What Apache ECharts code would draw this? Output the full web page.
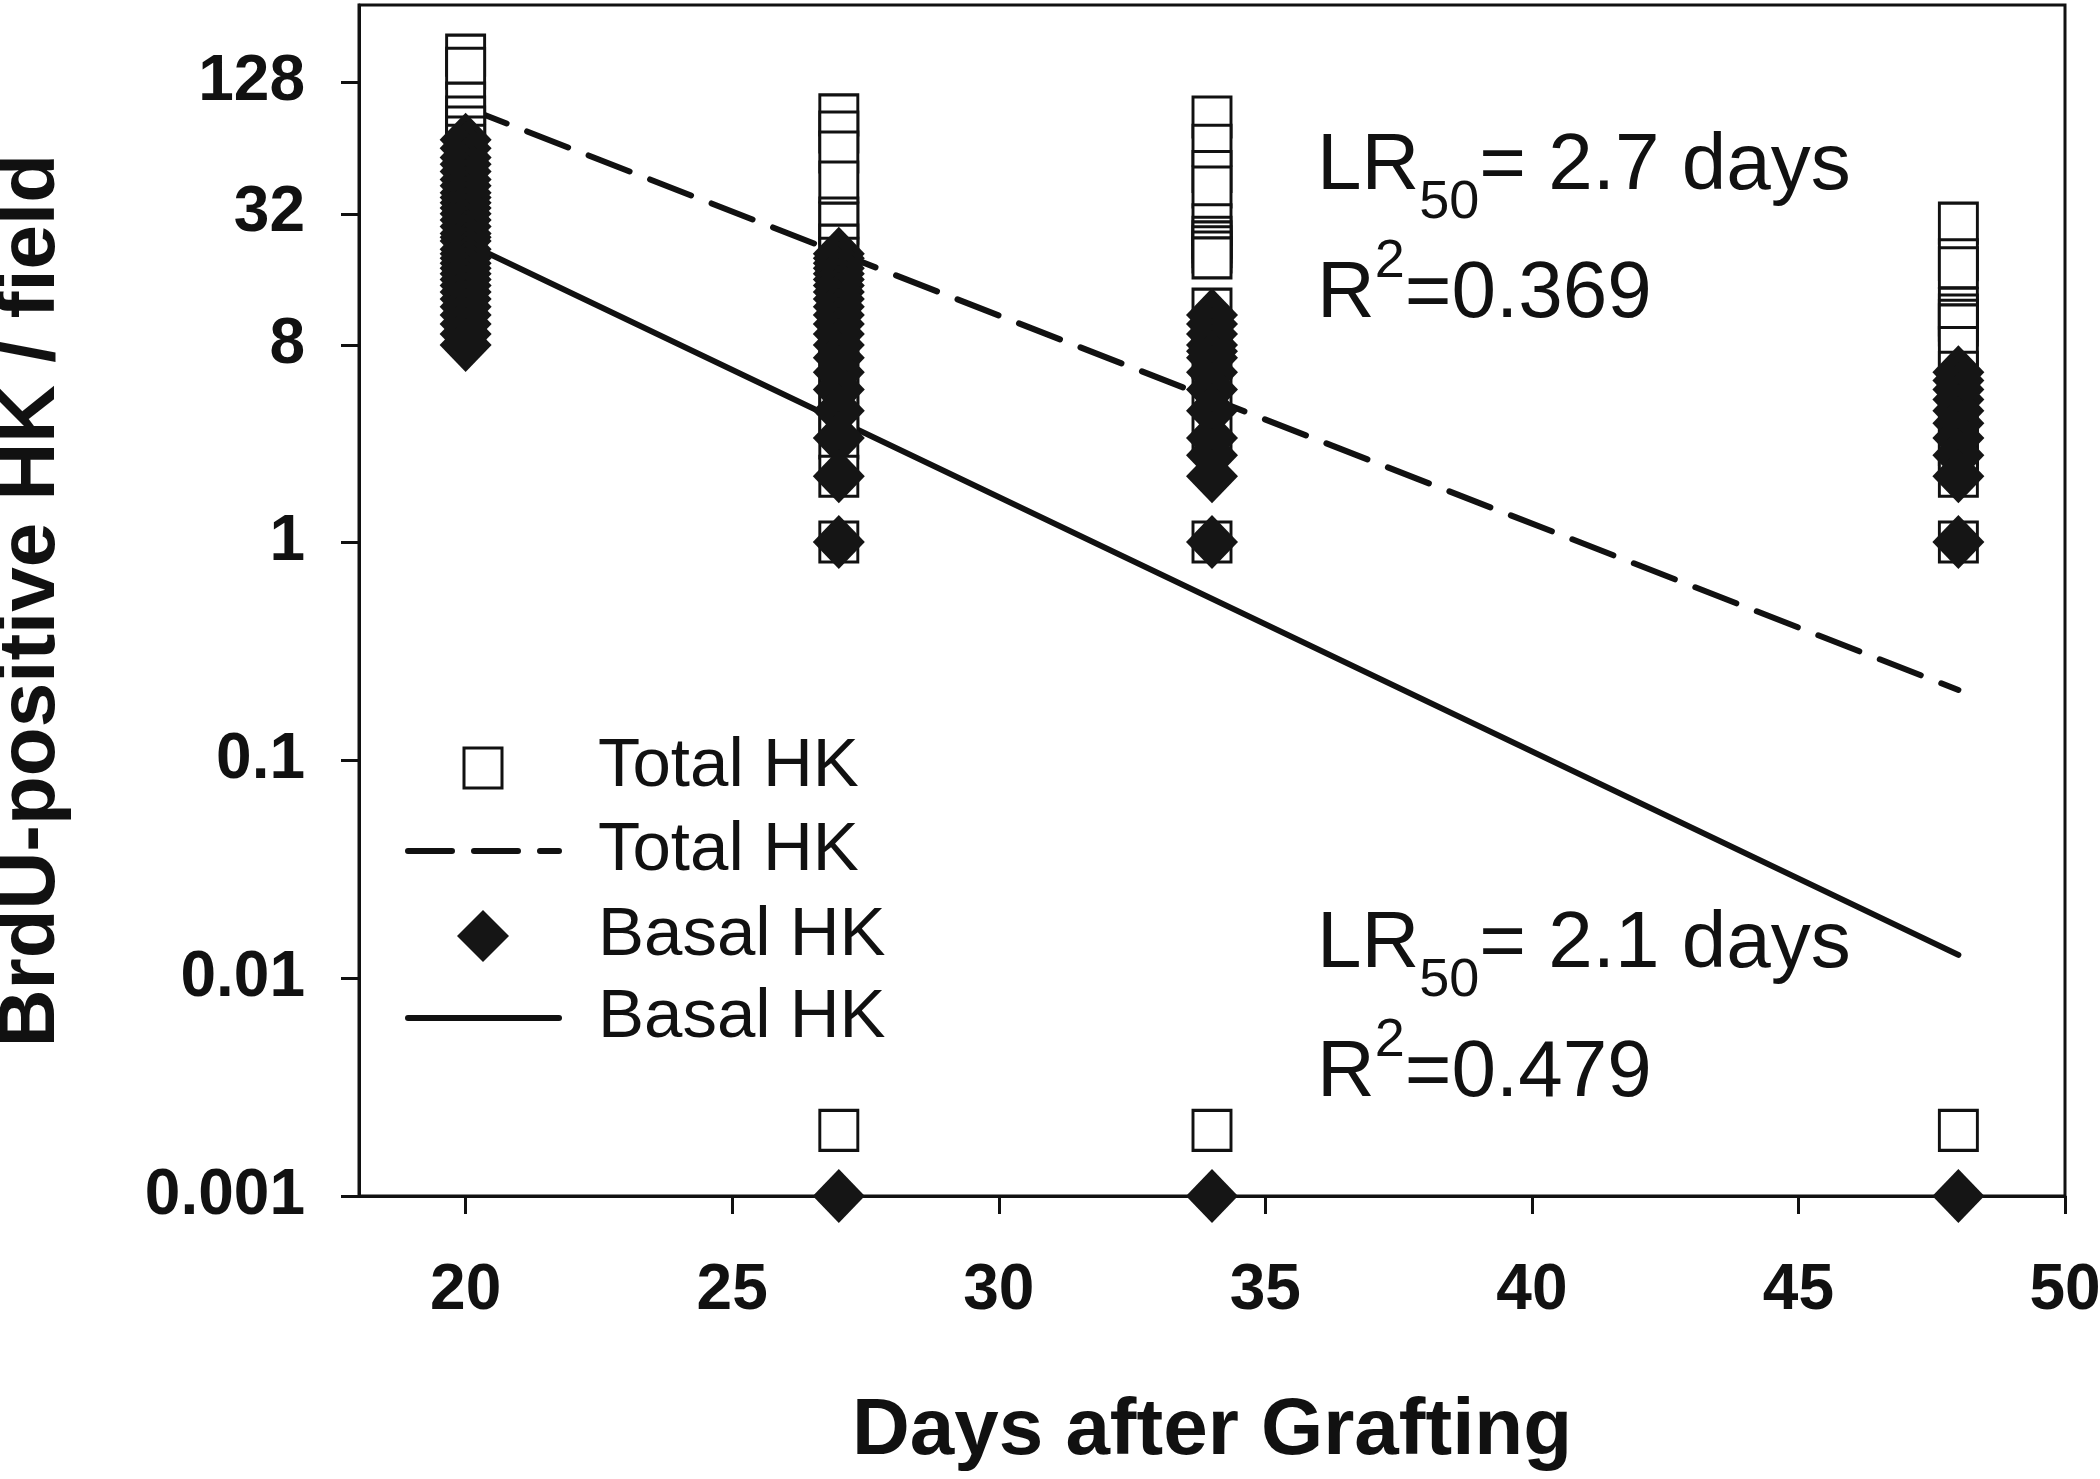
<!DOCTYPE html>
<html>
<head>
<meta charset="utf-8">
<title>BrdU-positive HK / field</title>
<script src="https://cdn.jsdelivr.net/npm/echarts@6/dist/echarts.min.js"></script>
<style>
  html, body { margin: 0; padding: 0; background: #fff; }
  #chart { width: 2100px; height: 1479px; }
</style>
</head>
<body>
<div id="chart"></div>
<script>
// values; zero counts are drawn at 0.002 (total) / 0.001 (basal)
const totalDay20 = [171, 149, 103, 89, 80, 72, 66, 60, 54, 50, 46, 42, 38, 35, 32, 30, 28, 26, 24, 22, 20, 18, 16, 14, 13, 12, 11, 10];
const totalDay27 = [91, 76, 61.5, 44.8, 30.6, 29, 23, 20, 17, 14, 12, 10, 8, 6, 5, 4, 3, 2, 1, 0.002];
const totalDay34 = [89, 66, 50, 42.5, 28.5, 25, 23.8, 22.6, 21.4, 20.1, 11.7, 9, 7, 5, 3, 1, 0.002];
const totalDay48 = [29, 19.7, 18.1, 11.8, 11, 10.4, 9.9, 7.8, 6, 5, 4, 2.8, 2.5, 2, 1, 0.002];

const basalDay20 = [70, 64, 58, 54, 50, 46, 43, 40, 38, 36, 34, 32, 30, 28, 26, 25, 24, 22, 21, 20, 19, 18, 17, 16, 15, 14, 13, 12, 11, 10, 9, 8];
const basalDay27 = [21, 20, 19, 18, 17, 16, 15, 14, 13, 12, 11, 10, 9, 8, 7, 6, 5, 4, 3, 2, 1, 0.001];
const basalDay34 = [11, 10, 9, 8, 7.5, 7, 6, 5, 4, 3, 2.5, 2, 1, 0.001];
const basalDay48 = [6, 5.5, 5, 4.5, 4, 3.5, 3, 2.5, 2, 1, 0.001];

const days = [20, 27, 34, 48];

// regression lines (end points)
const fitDays = [20, 48];
const totalFit = [98.4, 0.2095];
const basalFit = [23.6, 0.01276];

const xTicks = [20, 25, 30, 35, 40, 45, 50];
const yTicks = [0.001, 0.01, 0.1, 1, 8, 32, 128];
const yTickLabels = ['0.001', '0.01', '0.1', '1', '8', '32', '128'];

const legendLabels = ['Total HK', 'Total HK', 'Basal HK', 'Basal HK'];

const FONT = '"Liberation Sans", Arial, sans-serif';
const INK = '#111';

// y axis is log10 of the count
const lg = v => Math.log10(v);

function points(dayList, groups) {
  const out = [];
  groups.forEach((vals, i) => {
    vals.forEach(v => out.push([dayList[i], lg(v)]));
  });
  return out;
}

const totalPoints = points(days, [totalDay20, totalDay27, totalDay34, totalDay48]);
const basalPoints = points(days, [basalDay20, basalDay27, basalDay34, basalDay48]);
const totalLine = fitDays.map((d, i) => [d, lg(totalFit[i])]);
const basalLine = fitDays.map((d, i) => [d, lg(basalFit[i])]);

const chart = echarts.init(document.getElementById('chart'));

const annText = (x, y, text) => ({
  type: 'text',
  x: x,
  y: y,
  style: {
    text: text,
    verticalAlign: 'top',
    fill: INK,
    fontFamily: FONT,
    fontSize: 80,
    rich: {
      m: { fontSize: 80, fontFamily: FONT, fill: INK, height: 100, lineHeight: 100, verticalAlign: 'middle' },
      s: { fontSize: 54, fontFamily: FONT, fill: INK, height: 28, lineHeight: 28, verticalAlign: 'bottom' },
      p: { fontSize: 54, fontFamily: FONT, fill: INK, height: 34, lineHeight: 34, verticalAlign: 'top' }
    }
  }
});

const legendRows = [767, 851, 936, 1018];
const legendText = legendLabels.map((t, i) => ({
  type: 'text',
  x: 598,
  y: legendRows[i],
  style: { text: t, fontSize: 69, fontFamily: FONT, fill: INK, verticalAlign: 'middle' }
}));

const option = {
  animation: false,
  backgroundColor: '#fff',
  grid: {
    left: 359,
    right: 35,
    top: 5,
    bottom: 283,
    show: true,
    borderColor: INK,
    borderWidth: 3,
    outerBoundsMode: 'none'
  },
  xAxis: {
    type: 'value',
    min: 18,
    max: 50,
    name: 'Days after Grafting',
    nameLocation: 'middle',
    nameGap: 196,
    nameTextStyle: { fontSize: 80, fontWeight: 'bold', fontFamily: FONT, color: INK, lineHeight: 80 },
    axisLine: { show: true, onZero: false, lineStyle: { color: INK, width: 3 } },
    axisTick: { show: true, length: 18, customValues: xTicks, lineStyle: { color: INK, width: 3 } },
    axisLabel: {
      customValues: xTicks,
      margin: 63,
      fontSize: 64,
      fontWeight: 'bold',
      fontFamily: FONT,
      color: INK,
      lineHeight: 64
    },
    splitLine: { show: false }
  },
  yAxis: {
    type: 'value',
    min: -3,
    max: 2.463,
    name: 'BrdU-positive HK / field',
    nameLocation: 'middle',
    nameGap: 287,
    nameTextStyle: { fontSize: 80, fontWeight: 'bold', fontFamily: FONT, color: INK, lineHeight: 80 },
    axisLine: { show: true, onZero: false, lineStyle: { color: INK, width: 3 } },
    axisTick: { show: true, length: 18, customValues: yTicks.map(lg), lineStyle: { color: INK, width: 3 } },
    axisLabel: {
      customValues: yTicks.map(lg),
      margin: 54,
      fontSize: 64,
      fontWeight: 'bold',
      fontFamily: FONT,
      color: INK,
      formatter: function (v) {
        let best = 0;
        yTicks.forEach((t, i) => {
          if (Math.abs(lg(t) - v) < Math.abs(lg(yTicks[best]) - v)) best = i;
        });
        return yTickLabels[best];
      }
    },
    splitLine: { show: false }
  },
  series: [
    {
      name: 'Total HK fit',
      type: 'line',
      data: totalLine,
      symbol: 'none',
      lineStyle: { color: INK, width: 6, type: [44, 22], cap: 'round' },
      z: 1
    },
    {
      name: 'Basal HK fit',
      type: 'line',
      data: basalLine,
      symbol: 'none',
      lineStyle: { color: INK, width: 6, cap: 'round' },
      z: 1
    },
    {
      name: 'Total HK',
      type: 'scatter',
      data: totalPoints,
      symbol: 'rect',
      symbolSize: [38, 40],
      itemStyle: { color: '#fff', borderColor: INK, borderWidth: 3, opacity: 1 },
      z: 2
    },
    {
      name: 'Basal HK',
      type: 'scatter',
      data: basalPoints,
      symbol: 'diamond',
      symbolSize: [52, 54],
      itemStyle: { color: '#151515', opacity: 1 },
      z: 3
    }
  ],
  graphic: [
    // legend
    { type: 'rect', shape: { x: 464, y: 748, width: 38, height: 40 },
      style: { fill: '#fff', stroke: INK, lineWidth: 3 } },
    { type: 'line', shape: { x1: 408, y1: 851, x2: 559, y2: 851 },
      style: { stroke: INK, lineWidth: 6, lineDash: [44, 22], lineCap: 'round' } },
    { type: 'polygon', shape: { points: [[483, 910], [509, 936], [483, 962], [457, 936]] },
      style: { fill: '#151515' } },
    { type: 'line', shape: { x1: 408, y1: 1018, x2: 559, y2: 1018 },
      style: { stroke: INK, lineWidth: 6, lineCap: 'round' } },
    ...legendText,
    // fit annotations
    annText(1317, 117, '{m|LR}{s|50}{m|= 2.7 days}'),
    annText(1317, 245, '{m|R}{p|2}{m|=0.369}'),
    annText(1317, 895, '{m|LR}{s|50}{m|= 2.1 days}'),
    annText(1317, 1024, '{m|R}{p|2}{m|=0.479}')
  ]
};

chart.setOption(option);

window.addEventListener('resize', () => chart.resize());
</script>
</body>
</html>
